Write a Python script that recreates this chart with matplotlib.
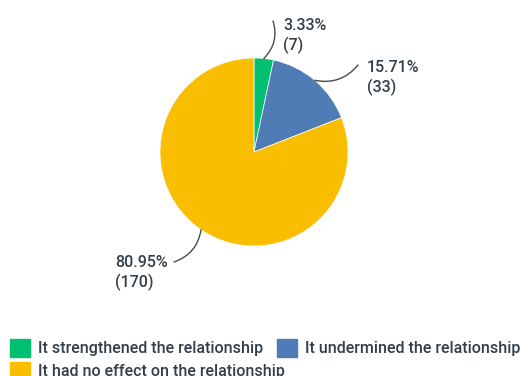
import numpy as np
import matplotlib.pyplot as plt
from matplotlib.patches import Patch

# answer categories and response counts
labels = ["It strengthened the relationship",
          "It undermined the relationship",
          "It had no effect on the relationship"]
counts = [7, 33, 170]
percents = ["3.33%", "15.71%", "80.95%"]
colors = ["#00BF6F", "#507CB6", "#F9BE00"]

ink = "#333E48"
plt.rcParams["font.family"] = ["Roboto", "DejaVu Sans"]

fig = plt.figure(figsize=(5.30, 3.76), dpi=100)
# axes in pixel units (origin bottom-left)
ax = fig.add_axes([0, 0, 1, 1])

cx, cy, r = 254, 224, 94
wedges, _ = ax.pie(counts, colors=colors, startangle=90, counterclock=False,
                   center=(cx, cy), radius=r,
                   wedgeprops=dict(linewidth=0.5, edgecolor="white"))
ax.set_xlim(0, 530)
ax.set_ylim(0, 376)
ax.set_aspect("equal")
ax.axis("off")

# label positions (text anchor) and leader curvature per slice
text_pos = [(283, 358), (367, 316), (115, 121)]
line_end = [(273, 355), (358, 311), (174, 114)]
rads = [-0.3, -0.3, 0.3]

for w, pct, n, tp, le, rad in zip(wedges, percents, counts, text_pos,
                                  line_end, rads):
    mid = np.deg2rad((w.theta1 + w.theta2) / 2)
    edge = (cx + r * np.cos(mid), cy + r * np.sin(mid))
    ax.annotate("", xy=edge, xytext=le,
                arrowprops=dict(arrowstyle="-", color="#4a4a4a", lw=1.0,
                                shrinkA=0, shrinkB=0,
                                connectionstyle=f"arc3,rad={rad}"))
    ax.text(tp[0], tp[1], f"{pct}\n({n})", ha="left", va="top",
            fontsize=11.5, fontweight="medium", color=ink, linespacing=1.3)

# legend wraps like a flow layout: two items on the first row, one below
handles = [Patch(facecolor=c, edgecolor=c) for c in colors]
leg_kw = dict(loc="center left", frameon=False, fontsize=11.5,
              handlelength=1.25, handleheight=1.3, handletextpad=0.5,
              columnspacing=0.85, borderpad=0, borderaxespad=0,
              labelcolor=ink, prop=dict(weight="medium", size=11.5))
leg_kw.pop("fontsize")
row1 = fig.legend(handles[:2], labels[:2], ncol=2,
                  bbox_to_anchor=(10 / 530, (376 - 348) / 376), **leg_kw)
row2 = fig.legend(handles[2:], labels[2:], ncol=1,
                  bbox_to_anchor=(10 / 530, (376 - 371) / 376), **leg_kw)

fig.savefig("out.png", dpi=100)
